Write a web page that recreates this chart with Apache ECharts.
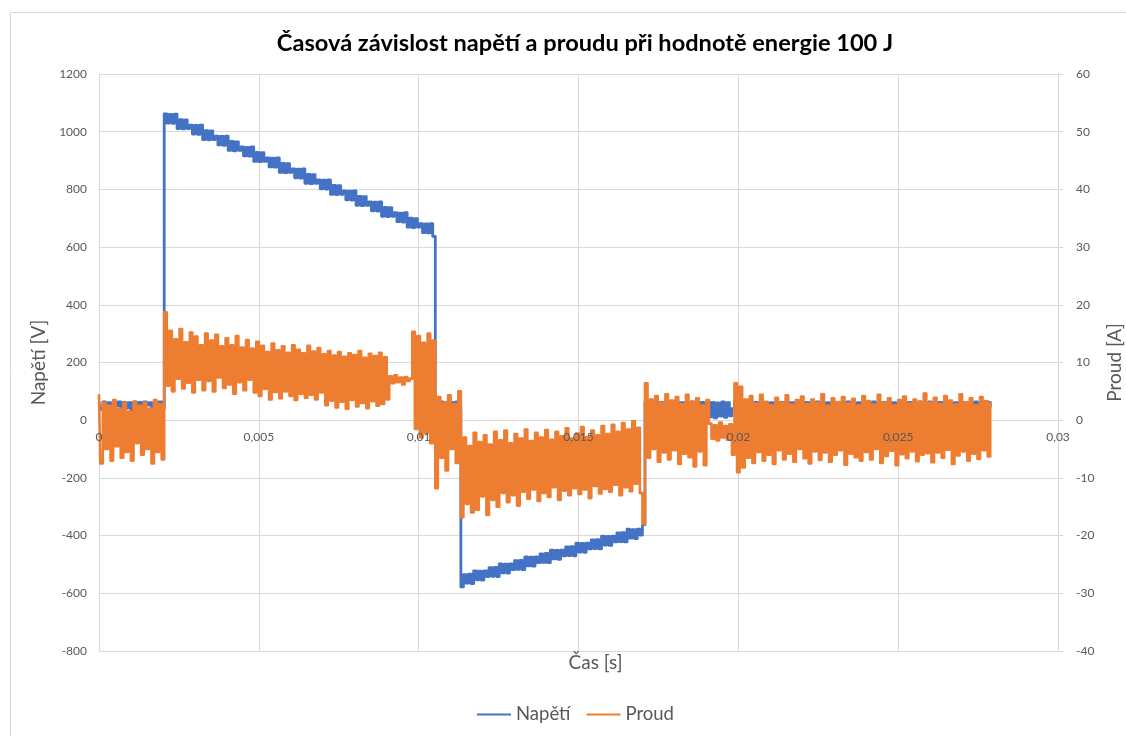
<!DOCTYPE html>
<html><head><meta charset="utf-8">
<script src="https://cdn.jsdelivr.net/npm/echarts@6/dist/echarts.min.js"></script>
<style>html,body{margin:0;padding:0;background:#fff}#c{width:1126px;height:736px}</style>
</head><body><div id="c"></div>
<script>
// Time of each sample [ms]
const casMs = [
0,0.08,0.16,0.24,0.32,0.4,0.48,0.56,0.64,0.72,0.8,0.88,0.96,1.04,1.12,1.2,1.28,1.36,1.44,1.52,1.6,1.68,1.76,1.84,1.92,
2,2.08,2.16,2.24,2.32,2.4,2.48,2.56,2.64,2.72,2.8,2.88,2.96,3.04,3.12,3.2,3.28,3.36,3.44,3.52,3.6,3.68,3.76,3.84,3.92,
4,4.08,4.16,4.24,4.32,4.4,4.48,4.56,4.64,4.72,4.8,4.88,4.96,5.04,5.12,5.2,5.28,5.36,5.44,5.52,5.6,5.68,5.76,5.84,5.92,
6,6.08,6.16,6.24,6.32,6.4,6.48,6.56,6.64,6.72,6.8,6.88,6.96,7.04,7.12,7.2,7.28,7.36,7.44,7.52,7.6,7.68,7.76,7.84,7.92,
8,8.08,8.16,8.24,8.32,8.4,8.48,8.56,8.64,8.72,8.8,8.88,8.96,9.04,9.12,9.2,9.28,9.36,9.44,9.52,9.6,9.68,9.76,9.84,9.92,
10,10.08,10.16,10.24,10.32,10.4,10.48,10.56,10.64,10.72,10.8,10.88,10.96,11.04,11.12,11.2,11.28,11.36,11.44,11.52,11.6,11.68,11.76,11.84,11.92,
12,12.08,12.16,12.24,12.32,12.4,12.48,12.56,12.64,12.72,12.8,12.88,12.96,13.04,13.12,13.2,13.28,13.36,13.44,13.52,13.6,13.68,13.76,13.84,13.92,
14,14.08,14.16,14.24,14.32,14.4,14.48,14.56,14.64,14.72,14.8,14.88,14.96,15.04,15.12,15.2,15.28,15.36,15.44,15.52,15.6,15.68,15.76,15.84,15.92,
16,16.08,16.16,16.24,16.32,16.4,16.48,16.56,16.64,16.72,16.8,16.88,16.96,17.04,17.12,17.2,17.28,17.36,17.44,17.52,17.6,17.68,17.76,17.84,17.92,
18,18.08,18.16,18.24,18.32,18.4,18.48,18.56,18.64,18.72,18.8,18.88,18.96,19.04,19.12,19.2,19.28,19.36,19.44,19.52,19.6,19.68,19.76,19.84,19.92,
20,20.08,20.16,20.24,20.32,20.4,20.48,20.56,20.64,20.72,20.8,20.88,20.96,21.04,21.12,21.2,21.28,21.36,21.44,21.52,21.6,21.68,21.76,21.84,21.92,
22,22.08,22.16,22.24,22.32,22.4,22.48,22.56,22.64,22.72,22.8,22.88,22.96,23.04,23.12,23.2,23.28,23.36,23.44,23.52,23.6,23.68,23.76,23.84,23.92,
24,24.08,24.16,24.24,24.32,24.4,24.48,24.56,24.64,24.72,24.8,24.88,24.96,25.04,25.12,25.2,25.28,25.36,25.44,25.52,25.6,25.68,25.76,25.84,25.92,
26,26.08,26.16,26.24,26.32,26.4,26.48,26.56,26.64,26.72,26.8,26.88,26.96,27.04,27.12,27.2,27.28,27.36,27.44,27.52,27.6,27.68,27.76,27.84,27.92
];
// Napětí [V]
const napeti = [
62,38,63,45,61,30,62,50,63,35,62,42,61,28,63,48,62,36,63,52,61,33,62,44,63,
40,1062,1030,1060,1029,1061,1011,1042,1010,1041,1011,1023,992,1022,991,1023,973,1004,972,1003,973,985,954,984,953,
985,935,966,934,965,935,947,916,946,915,947,897,928,896,927,897,909,878,908,877,909,859,890,858,889,
859,871,840,870,839,871,821,852,820,851,821,833,802,832,801,833,783,814,782,813,783,795,764,794,763,
795,745,776,744,775,745,757,726,756,725,757,707,738,706,737,707,719,688,718,687,719,669,700,668,699,
669,681,650,680,649,681,637,62,40,63,35,61,48,62,30,63,45,-578,-535,-565,-534,-566,-522,-553,-523,
-554,-522,-542,-511,-541,-510,-542,-498,-529,-499,-530,-498,-518,-487,-517,-486,-518,-474,-505,-475,-506,-474,-494,-463,-493,
-462,-494,-450,-481,-451,-482,-450,-470,-439,-469,-438,-470,-426,-457,-427,-458,-426,-446,-415,-445,-414,-446,-402,-433,-403,
-434,-402,-422,-391,-421,-390,-422,-378,-409,-379,-410,-378,-398,-362,62,38,63,45,61,33,62,50,63,40,62,
44,63,36,61,52,62,30,63,42,61,47,62,35,63,12,62,8,60,14,63,10,61,15,40,63,
38,62,46,63,33,61,50,62,40,63,28,62,45,61,36,63,52,62,41,63,34,61,48,62,39,
63,44,62,31,61,49,63,37,62,53,61,42,63,30,62,46,61,38,63,51,62,35,61,43,63,
40,62,29,63,47,61,36,62,52,63,41,61,33,62,48,63,38,62,45,61,30,63,50,62,37,
63,43,61,34,62,49,63,39,62,31,61,46,63,41,62,54,61,36,63,44,62,32,63,47,62
];
// Proud [A]
const proud = [
4.5,-7.5,3,-5,2.5,-7,3.5,-4.5,2,-6.5,3,-5.5,1.5,-7,3.2,-4,2.5,-6,3,-5,2,-7.5,3.5,-5.5,2.8,
-6.8,18.7,6,15.5,5,14,7.2,15.8,5.5,13.5,6.5,15.2,4.8,14.5,7,13,5.2,15,6.8,13.8,5,14.8,7.4,12.8,5.6,
14.2,6.2,13,4.6,14.6,6.6,12.6,5.2,13.9,7,12.4,4.8,13.6,4.2,12.9,5.4,11.8,3.6,13.3,4.9,12.1,3.8,12.8,5,11.7,
4.2,13,3.5,12.2,4.6,11.6,3.9,12.9,4.4,11.9,3.6,12.5,4.8,11.4,2.6,12,3.4,11.2,2.2,11.8,3.2,11,2,11.6,3.5,
11.3,2.4,12,3,10.8,2.1,11.5,3.3,11.1,2.5,11.7,2.8,10.9,3.6,7.6,6.4,7.8,6.6,7.4,6.2,7.5,6.8,7.2,15.3,-1.5,
14.6,-3,13.4,-2.2,15,-4,13.8,-11.8,4,-6.5,3,-8.7,4.3,-5,2.8,-7.4,5,-16.8,-3,-14.5,-4.5,-16,-2.2,-15.5,-3.8,
-13.2,-2.6,-16.4,-4.2,-13.8,-2,-15,-3.5,-12.6,-1.8,-14.2,-4,-13,-2.4,-14.8,-3.2,-12.4,-1.6,-13.6,-3.6,-12,-2.2,-14,-3,-12.6,
-1.7,-13.3,-3.4,-11.6,-2,-13.8,-2.8,-12.2,-1.4,-13,-3.2,-11.8,-2.3,-12.8,-1.2,-12,-2.9,-13.5,-1.8,-11.4,-2.6,-12.7,-1,-11.9,-2.4,
-12.4,-0.8,-11.2,-2,-13,-0.5,-11.6,-1.6,-12.3,-0.2,-11,-1.3,-12.6,-18,6.4,-6.5,3.6,-5,4.2,-7.2,3,-5.6,4.5,-6.8,3.4,
-5.2,4,-7.6,2.8,-5.8,4.4,-6.4,3.2,-8,3.8,-5.4,2.6,-7.8,3.5,-0.6,-3.2,-0.9,-3.5,-0.4,-3,-1,-3.4,-0.7,-6,6.4,
-9,5.8,-8.2,3.6,-6.5,4.2,-7.4,2.9,-5.5,4.4,-7,3.2,-6,2.6,-7.6,3.9,-5.2,3,-6.8,4.3,-5.8,2.7,-7.2,3.5,-5,
4.1,-6.6,2.8,-7.5,3.6,-5.4,3,-6.9,4.5,-5.6,2.5,-7.2,3.8,-6,3.1,-5.2,4,-7.7,2.9,-5.8,3.7,-6.4,2.6,-7,4.2,
-5.5,3.3,-6.8,2.7,-5,4.4,-7.4,3,-6.2,3.8,-5.3,2.6,-7.8,3.5,-5.9,4.1,-6.6,2.9,-5.4,3.6,-7.1,3.2,-6,4.6,-5.7,
3,-7.3,3.9,-5.6,2.8,-6.5,4.2,-5.1,3.4,-7.6,2.7,-6.1,4.5,-5.4,3.1,-7,3.8,-5.8,2.6,-6.7,4,-5.2,3.3,-6.3,2.9
];
const nazvySerii = ['Napětí', 'Proud'];
const osaCas = {min: 0, max: 0.03, krok: 0.005};
const osaNapeti = {min: -800, max: 1200, krok: 200};
const osaProud = {min: -40, max: 60, krok: 10};

const chart = echarts.init(document.getElementById('c'), null, {renderer: 'canvas'});
const fmtCas = v => String(Math.round(v * 1000) / 1000).replace('.', ',');
const fmtNum = v => String(v);
const gray = '#595959', gridC = '#d9d9d9', font = 'Lato';
const option = {
  animation: false,
  backgroundColor: '#ffffff',
  textStyle: {fontFamily: font},
  graphic: [{type: 'rect', silent: true, z: -10, shape: {x: 10.5, y: 12.5, width: 1140, height: 760}, style: {fill: 'none', stroke: gridC, lineWidth: 1}}],
  title: {text: 'Časová závislost napětí a proudu při hodnotě energie 100 J', left: 580, top: 26, textAlign: 'center',
    textStyle: {fontSize: 23.6, fontWeight: 'bold', color: '#000', fontFamily: font}},
  legend: {left: 477, top: 705, padding: 0, itemWidth: 34, itemHeight: 2, itemGap: 16, icon: 'rect',
    textStyle: {fontSize: 18.5, color: gray, fontFamily: font}, data: nazvySerii},
  grid: {left: 99, right: 68, top: 74, bottom: 85, outerBoundsMode: 'none'},
  xAxis: [
    {type: 'value', min: osaCas.min, max: osaCas.max, interval: osaCas.krok, position: 'bottom',
      axisLine: {show: false, onZero: false}, axisTick: {show: false}, axisLabel: {show: false},
      splitLine: {show: true, lineStyle: {color: gridC, width: 1}}},
    {type: 'value', min: osaCas.min, max: osaCas.max, interval: osaCas.krok, position: 'bottom', z: 10, offset: -231,
      axisLine: {show: false, onZero: false}, axisTick: {show: false}, splitLine: {show: false},
      axisLabel: {formatter: fmtCas, color: gray, fontSize: 12, margin: 11, fontFamily: font},
      name: 'Čas [s]', nameLocation: 'middle', nameGap: 233,
      nameTextStyle: {fontSize: 19, color: gray, fontFamily: font, padding: [0, 0, 0, 34]}}
  ],
  yAxis: [
    {type: 'value', min: osaNapeti.min, max: osaNapeti.max, interval: osaNapeti.krok, position: 'left',
      axisLine: {show: true, onZero: false, lineStyle: {color: gridC}}, axisTick: {show: false},
      axisLabel: {formatter: fmtNum, color: gray, fontSize: 12, margin: 12, fontFamily: font},
      splitLine: {show: true, lineStyle: {color: gridC, width: 1}},
      name: 'Napětí [V]', nameLocation: 'middle', nameGap: 34, nameRotate: 90,
      nameTextStyle: {fontSize: 19, color: gray, fontFamily: font}},
    {type: 'value', min: osaProud.min, max: osaProud.max, interval: osaProud.krok, position: 'right',
      axisLine: {show: true, onZero: false, lineStyle: {color: gridC}},
      axisTick: {show: true, length: 5, lineStyle: {color: gridC}},
      axisLabel: {formatter: fmtNum, color: gray, fontSize: 12, margin: 18, fontFamily: font},
      splitLine: {show: false},
      name: 'Proud [A]', nameLocation: 'middle', nameGap: 35, nameRotate: 90,
      nameTextStyle: {fontSize: 19, color: gray, fontFamily: font}}
  ],
  series: [
    {name: nazvySerii[0], type: 'line', step: 'middle', xAxisIndex: 0, yAxisIndex: 0, symbol: 'none', showSymbol: false,
      data: casMs.map((t, i) => [t / 1000, napeti[i]]),
      lineStyle: {color: '#4472C4', width: 2.8, join: 'round'}, itemStyle: {color: '#4472C4'}},
    {name: nazvySerii[1], type: 'line', step: 'middle', xAxisIndex: 0, yAxisIndex: 1, symbol: 'none', showSymbol: false,
      data: casMs.map((t, i) => [t / 1000, proud[i]]),
      lineStyle: {color: '#ED7D31', width: 2.6, join: 'round'}, itemStyle: {color: '#ED7D31'}}
  ]
};
chart.setOption(option);
</script>
</body></html>
